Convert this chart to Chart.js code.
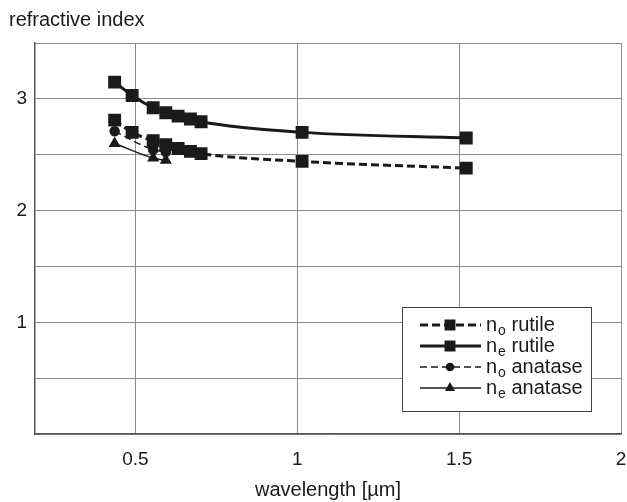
<!DOCTYPE html>
<html>
<head>
<meta charset="utf-8">
<title>Refractive index of TiO2</title>
<script src="https://cdn.jsdelivr.net/npm/chart.js@4.4.0/dist/chart.umd.min.js"></script>
<style>
  html, body { margin: 0; padding: 0; background: #fff; }
  #wrap { width: 627px; height: 502px; position: relative; }
</style>
</head>
<body>
<div id="wrap"><canvas id="myChart"></canvas></div>
<script>
// wavelengths in µm
const wlRutile = [0.436, 0.49, 0.555, 0.594, 0.632, 0.67, 0.703, 1.015, 1.522]
const noRutile = [2.81, 2.70, 2.625, 2.59, 2.555, 2.53, 2.51, 2.44, 2.38]
const neRutile = [3.15, 3.03, 2.92, 2.875, 2.845, 2.82, 2.795, 2.70, 2.65]

const wlAnatase = [0.436, 0.555, 0.594]
const noAnatase = [2.71, 2.545, 2.525]
const neAnatase = [2.60, 2.47, 2.45]

const xTicks = [0.5, 1, 1.5, 2]
const yLabelled = [1, 2, 3]

const FONT = '"Liberation Sans", Arial, sans-serif'
const INK = '#1a1a1a'

const pts = (xs, ys) => xs.map((x, i) => ({ x, y: ys[i] }))

// legend entries: index subscript, material
const legendRows = [
  ['o', 'rutile'],
  ['e', 'rutile'],
  ['o', 'anatase'],
  ['e', 'anatase'],
]

// framed legend in the lower right with subscripted n_o / n_e labels
const boxLegend = {
  id: 'boxLegend',
  afterDraw(chart) {
    const { ctx, chartArea } = chart
    const w = 189, h = 104
    const right = chartArea.right - 30
    const bottom = chartArea.bottom - 23
    const left = right - w, top = bottom - h
    ctx.save()
    ctx.fillStyle = '#fff'
    ctx.fillRect(left, top, w, h)
    ctx.strokeStyle = '#444'
    ctx.lineWidth = 1
    ctx.strokeRect(left + 0.5, top + 0.5, w, h)

    legendRows.forEach(([sub, name], i) => {
      const ds = chart.data.datasets[i]
      const y = top + 18 + i * 21
      ctx.beginPath()
      ctx.setLineDash(ds.borderDash || [])
      ctx.lineWidth = ds.borderWidth
      ctx.strokeStyle = ds.borderColor
      ctx.moveTo(left + 18, y)
      ctx.lineTo(left + 79, y)
      ctx.stroke()
      ctx.setLineDash([])
      ctx.fillStyle = ds.pointBackgroundColor
      ctx.strokeStyle = ds.pointBorderColor
      Chart.helpers.drawPoint(ctx, {
        pointStyle: ds.pointStyle, radius: ds.pointRadius * 0.8, borderWidth: 1, rotation: 0
      }, left + 48, y)

      ctx.fillStyle = INK
      ctx.textBaseline = 'middle'
      ctx.textAlign = 'left'
      let x = left + 84
      ctx.font = '20px ' + FONT
      ctx.fillText('n', x, y)
      x += ctx.measureText('n').width + 1
      ctx.font = '14px ' + FONT
      ctx.fillText(sub, x, y + 6)
      x += ctx.measureText(sub).width
      ctx.font = '20px ' + FONT
      ctx.fillText(' ' + name, x, y)
    })
    ctx.restore()
  }
}

const ctx = document.getElementById('myChart').getContext('2d')
const myChart = new Chart(ctx, {
  type: 'line',
  data: {
    datasets: [
      {
        label: 'no rutile',
        data: pts(wlRutile, noRutile),
        borderColor: INK, borderWidth: 3, borderDash: [8, 4],
        pointStyle: 'rect', pointRadius: 7,
        pointBackgroundColor: INK, pointBorderColor: INK,
      },
      {
        label: 'ne rutile',
        data: pts(wlRutile, neRutile),
        borderColor: INK, borderWidth: 3,
        pointStyle: 'rect', pointRadius: 7,
        pointBackgroundColor: INK, pointBorderColor: INK,
      },
      {
        label: 'no anatase',
        data: pts(wlAnatase, noAnatase),
        borderColor: INK, borderWidth: 1.5, borderDash: [7, 4],
        pointStyle: 'circle', pointRadius: 4.5,
        pointBackgroundColor: INK, pointBorderColor: INK,
      },
      {
        label: 'ne anatase',
        data: pts(wlAnatase, neAnatase),
        borderColor: INK, borderWidth: 1.5,
        pointStyle: 'triangle', pointRadius: 5.5,
        pointBackgroundColor: INK, pointBorderColor: INK,
      },
    ]
  },
  options: {
    responsive: true,
    maintainAspectRatio: false,
    animation: false,
    events: [],
    cubicInterpolationMode: 'monotone',
    layout: { autoPadding: false, padding: { left: 9, right: 6, top: 0, bottom: 0 } },
    plugins: {
      legend: { display: false },
      tooltip: { enabled: false },
      title: {
        display: true,
        text: 'refractive index',
        align: 'start',
        color: INK,
        font: { family: FONT, size: 20, weight: 'normal' },
        padding: { top: 8, bottom: 11 },
      },
    },
    scales: {
      x: {
        type: 'linear',
        min: 0.19,
        max: 2,
        afterBuildTicks: (axis) => { axis.ticks = xTicks.map(v => ({ value: v })) },
        afterFit: (scale) => {
          scale.height = 68
          // let the "2" label hang over the right edge instead of shrinking the plot
          scale.paddingLeft = 0
          scale.paddingRight = 0
        },
        grid: { color: '#8c8c8c', lineWidth: 1, drawTicks: false },
        border: { color: '#555', width: 1.5 },
        ticks: {
          color: INK, padding: 14, maxRotation: 0,
          font: { family: FONT, size: 19 },
          callback: (v) => String(v),
        },
        title: {
          display: true,
          text: 'wavelength [µm]',
          color: INK,
          font: { family: FONT, size: 20 },
          padding: { top: 0, bottom: 0 },
        },
      },
      y: {
        min: 0,
        max: 3.5,
        afterFit: (scale) => { scale.width = 26 },
        grid: { color: '#8c8c8c', lineWidth: 1, drawTicks: false },
        border: { color: '#555', width: 1.5 },
        ticks: {
          stepSize: 0.5,
          color: INK, padding: 8,
          font: { family: FONT, size: 19 },
          callback: (v) => yLabelled.includes(v) ? String(v) : '',
        },
      },
    },
  },
  plugins: [boxLegend],
})
</script>
</body>
</html>
